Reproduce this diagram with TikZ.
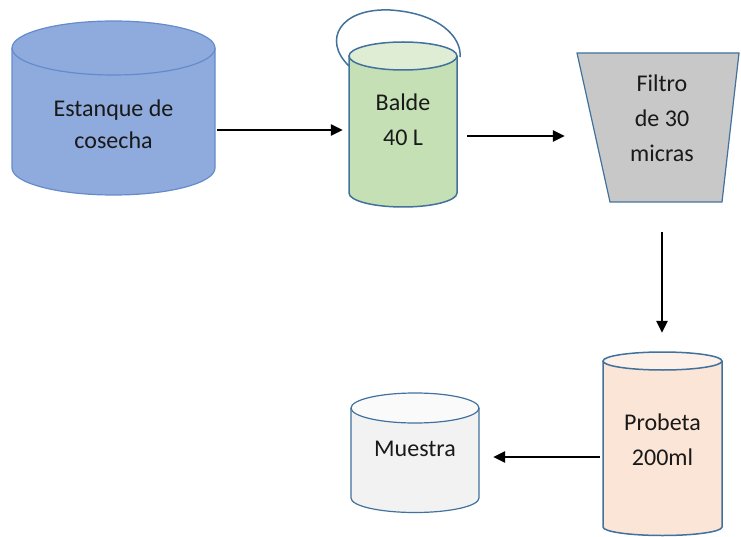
\documentclass[tikz,border=0pt]{standalone}
\usepackage{fontspec}
\setmainfont{Carlito}
\usetikzlibrary{positioning, arrows.meta}

\definecolor{borde}{RGB}{65,113,156}
\definecolor{bordeazul}{RGB}{100,140,205}
\definecolor{azul}{RGB}{143,170,220}
\definecolor{verde}{RGB}{197,224,180}
\definecolor{verdeclaro}{RGB}{222,237,212}
\definecolor{gris}{RGB}{200,200,200}
\definecolor{salmon}{RGB}{251,229,214}
\definecolor{salmonclaro}{RGB}{253,240,232}
\definecolor{grisclaro}{RGB}{242,242,242}
\definecolor{texto}{RGB}{25,25,25}

\begin{document}
\begin{tikzpicture}[x=1pt, y=-1pt,
    rotulo/.style={align=center, text=texto, font=\fontsize{24}{35}\selectfont, inner sep=0pt},
    flecha/.style={-{Triangle[length=12pt, width=11pt]}, line width=2.5pt}]
    \useasboundingbox (0,0) rectangle (741,537);

    % Estanque de cosecha
    \draw[bordeazul, fill=azul, line width=1.2pt]
        (12,48) -- (12,168) arc[start angle=180, end angle=360, x radius=101.5pt, y radius=27pt] -- (215,48);
    \draw[bordeazul, fill=azul, line width=1.2pt] (113.5,48) ellipse[x radius=101.5pt, y radius=27pt];
    \node[rotulo, font=\fontsize{24}{32}\selectfont, minimum width=203pt] (estanque) at (113.5,124) {Estanque de\\cosecha};

    % Balde with its handle
    \draw[borde, line width=1.5pt] (349,66) .. controls (322,40) and (340,8) .. (390,10)
        .. controls (440,13) and (462,38) .. (460,57);
    \draw[borde, fill=verde, line width=1.5pt]
        (349,56) -- (349,193) arc[start angle=180, end angle=360, x radius=54pt, y radius=14pt] -- (457,56);
    \draw[borde, fill=verdeclaro, line width=1.5pt] (403,56) ellipse[x radius=54pt, y radius=14pt];
    \node[rotulo, minimum width=108pt] (balde) at (403,120) {Balde\\40 L};

    % Filtro (trapezoid)
    \draw[borde, fill=gris, line width=1.2pt] (577,53) -- (739,53) -- (722,202) -- (610,202) -- cycle;
    \node[rotulo, minimum width=112pt, minimum height=149pt] (filtro) at (662,118) {Filtro\\de 30\\micras};

    % Probeta
    \draw[borde, fill=salmon, line width=1.5pt]
        (603,361) -- (603,527) arc[start angle=180, end angle=360, x radius=59.5pt, y radius=8.5pt] -- (722,361);
    \draw[borde, fill=salmonclaro, line width=1.5pt] (662.5,361) ellipse[x radius=59.5pt, y radius=9pt];
    \node[rotulo, minimum width=119pt, minimum height=150pt] (probeta) at (662.5,439.5) {Probeta\\200ml};

    % Muestra
    \draw[borde, fill=grisclaro, line width=1.2pt]
        (351,408) -- (351,498) arc[start angle=180, end angle=360, x radius=64pt, y radius=14.5pt] -- (479,408);
    \draw[borde, fill=white!60!grisclaro, line width=1.2pt] (415,408) ellipse[x radius=64pt, y radius=15pt];
    \node[rotulo, minimum width=128pt] (muestra) at (415,449) {Muestra};

    % Flow arrows
    \draw[flecha, shorten <=2pt, shorten >=6pt]
        ([yshift=-6pt]estanque.east) -- ([yshift=-6pt]estanque.east -| balde.west);
    \draw[flecha, shorten <=10pt, shorten >=41pt]
        ([yshift=-16pt]balde.east) -- ([yshift=-16pt]balde.east -| filtro.west);
    \draw[flecha, shorten <=39.5pt, shorten >=31.5pt]
        (filtro.south) -- (filtro.south |- probeta.north);
    \draw[flecha, shorten <=3pt, shorten >=14pt]
        ([yshift=-17.5pt]probeta.west) -- ([yshift=-17.5pt]probeta.west -| muestra.east);
\end{tikzpicture}
\end{document}
